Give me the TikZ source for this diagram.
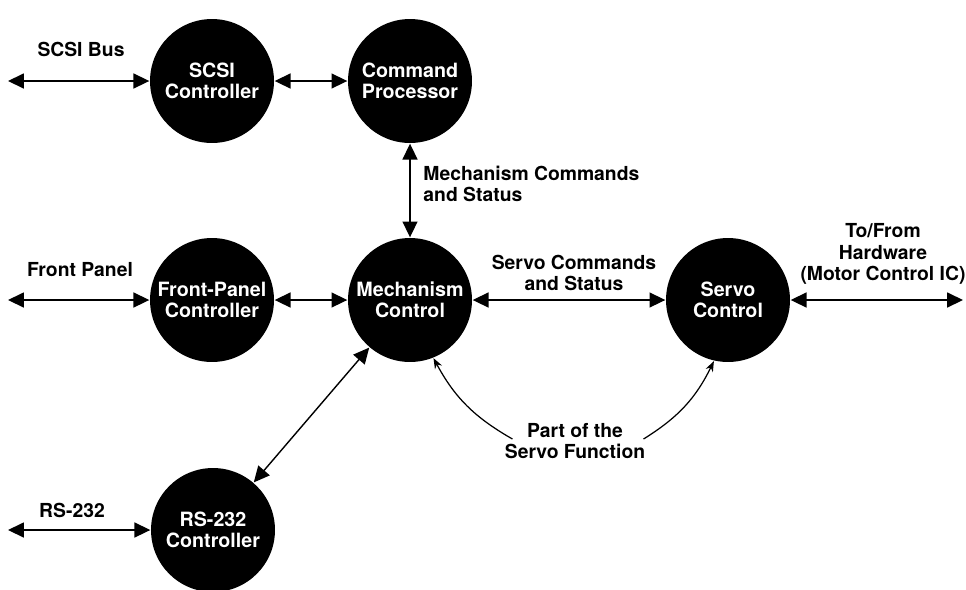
\documentclass[tikz,border=0pt]{standalone}
\usepackage{fontspec}
\setsansfont{TeX Gyre Heros}
\usetikzlibrary{arrows.meta,calc}

\begin{document}
\begin{tikzpicture}[x=0.02cm,y=0.02cm,line width=0.8pt,>={Triangle[length=9pt,width=8.5pt]},
  unit/.style ={circle, fill=black, text=white, minimum size=2.48cm, inner sep=0pt, align=center, font=\sffamily\bfseries\fontsize{11.2}{12.2}\selectfont},
  lbl/.style ={align=center, inner sep=1pt, font=\sffamily\bfseries\fontsize{11}{12.4}\selectfont},
  thin arrow/.style ={-{Stealth[length=6pt,width=4.5pt]}, line width=0.7pt}]
\useasboundingbox (0,0) rectangle (966,-589);
% circles
\draw (212,-81) node[unit] (SC) {SCSI\\Controller};
\draw (410,-81) node[unit] (CP) {Command\\Processor};
\draw (212,-300) node[unit] (FP) {Front-Panel\\Controller};
\draw (410,-300) node[unit] (MC) {Mechanism\\Control};
\draw (728,-300) node[unit] (SV) {Servo\\Control};
\draw (213,-530) node[unit] (RS) {RS-232\\Controller};
% outside ends
\coordinate (scsiEnd) at (8,-81);
\coordinate (panelEnd) at (8,-300);
\coordinate (rsEnd) at (8,-530);
\coordinate (hwEnd) at (963,-300);
% labels
\draw (81,-49) node[lbl] (scsiLbl) {SCSI Bus};
\draw (80,-270) node[lbl] (panelLbl) {Front Panel};
\draw (72,-510) node[lbl] (rsLbl) {RS-232};
\draw (421,-184) node[lbl, anchor=west, align=left] (mechLbl) {Mechanism Commands\\and Status};
\draw (574,-273) node[lbl] (servoLbl) {Servo Commands\\and Status};
\draw (883,-254) node[lbl] (hwLbl) {To/From\\Hardware\\(Motor Control IC)};
\draw (575,-441) node[lbl] (partLbl) {Part of the\\Servo Function};
% connections
\draw[<->] (scsiEnd) -- (SC);
\draw[<->] (SC) -- (CP);
\draw[<->] (CP) -- (MC);
\draw[<->] (panelEnd) -- (FP);
\draw[<->] (FP) -- (MC);
\draw[<->] (MC) -- (SV);
\draw[<->] (SV) -- (hwEnd);
\draw[<->] (MC) -- (RS);
\draw[<->] (rsEnd) -- (RS);
\draw[thin arrow] ($(partLbl.west)+(10,2)$) to[bend left=16] (MC.-68);
\draw[thin arrow] ($(partLbl.east)+(-4,2)$) to[bend right=16] (SV.-103);
\end{tikzpicture}
\end{document}
